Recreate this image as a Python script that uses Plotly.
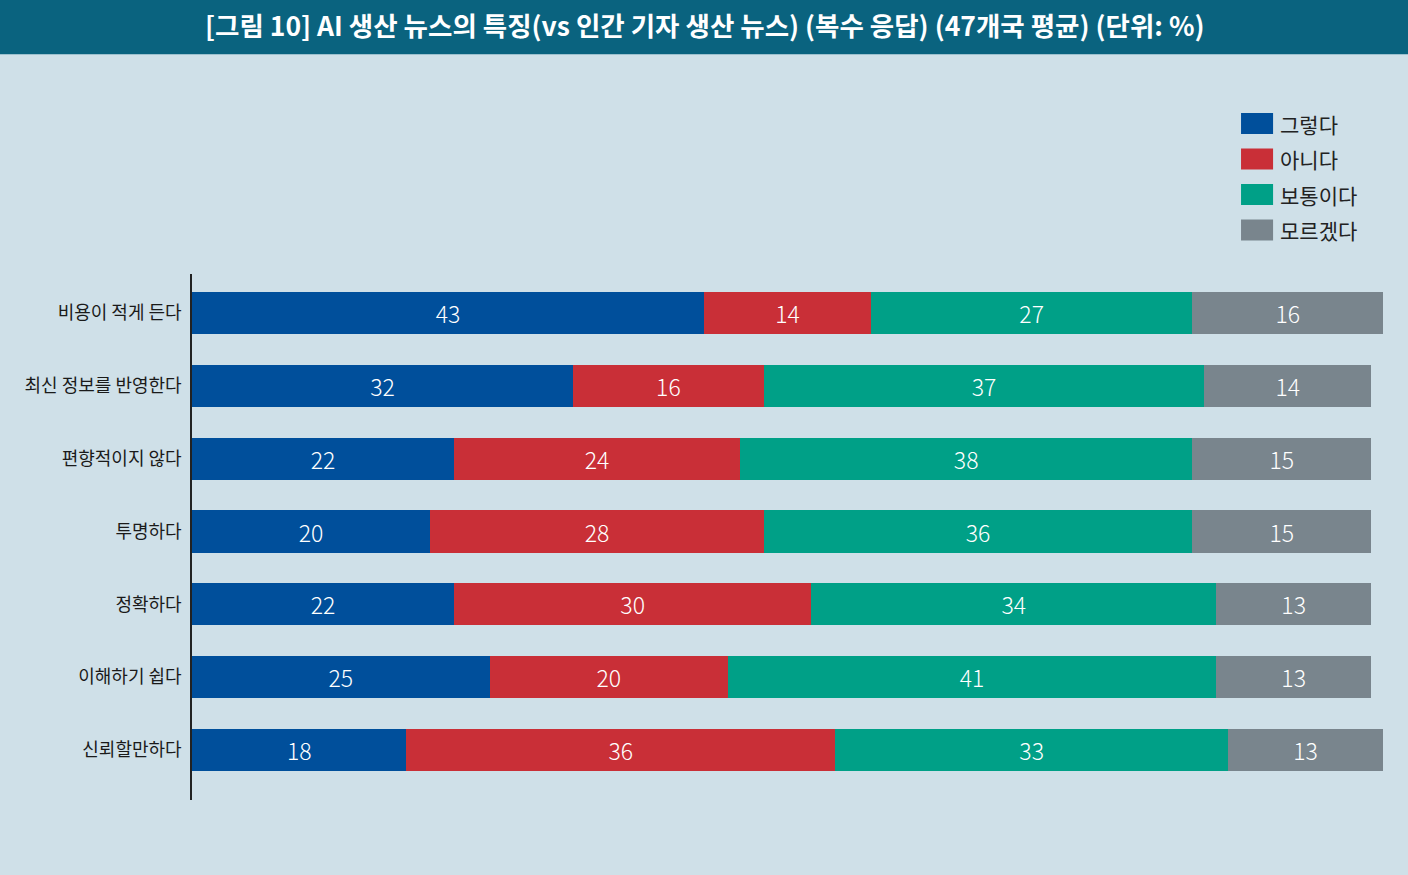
import plotly.graph_objects as go

categories = ["비용이 적게 든다", "최신 정보를 반영한다", "편향적이지 않다", "투명하다",
              "정확하다", "이해하기 쉽다", "신뢰할만하다"]
series_names = ["그렇다", "아니다", "보통이다", "모르겠다"]
yes_vals = [43, 32, 22, 20, 22, 25, 18]
no_vals = [14, 16, 24, 28, 30, 20, 36]
neutral_vals = [27, 37, 38, 36, 34, 41, 33]
dunno_vals = [16, 14, 15, 15, 13, 13, 13]
colors = ["#004f9b", "#c92f37", "#00a087", "#79858d"]

title = "[그림 10] AI 생산 뉴스의 특징(vs 인간 기자 생산 뉴스) (복수 응답) (47개국 평균) (단위: %)"
font = "Noto Sans CJK KR"
bg = "#cfe0e8"

fig = go.Figure()
for name, vals, col in zip(series_names, [yes_vals, no_vals, neutral_vals, dunno_vals], colors):
    fig.add_trace(go.Bar(
        y=categories, x=vals, name=name, orientation="h",
        marker=dict(color=col, line=dict(width=0)),
        text=vals, textposition="inside", insidetextanchor="middle",
        textangle=0, constraintext="none",
        textfont=dict(color="white", size=23, family=font, weight=300),
        showlegend=False,
    ))

# custom legend (square swatches + text)
for i, (name, col) in enumerate(zip(series_names, colors)):
    yt = 1.306 - i * 0.0675
    fig.add_shape(type="rect", xref="paper", yref="paper",
                  x0=0.8808, x1=0.9077, y0=yt - 0.040, y1=yt,
                  fillcolor=col, line=dict(width=0))
    fig.add_annotation(text=name, xref="paper", yref="paper",
                       x=0.9119, y=yt - 0.020, xanchor="left", yanchor="middle",
                       showarrow=False, font=dict(size=21, color="#222222", family=font))

# title bar
fig.add_shape(type="rect", xref="paper", yref="paper",
              x0=-0.2, x1=1.1, y0=1.418, y1=1.6,
              fillcolor="#0a637f", line=dict(width=0), layer="below")
fig.add_annotation(text="<b>" + title + "</b>", xref="paper", yref="paper",
                   x=(704 - 192) / 1191, y=(800 - 24) / 526,
                   xanchor="center", yanchor="middle", showarrow=False,
                   font=dict(size=26.5, color="white", family=font))

fig.update_layout(
    barmode="stack",
    bargap=0.42,
    width=1408, height=875,
    margin=dict(l=192, r=25, t=274, b=75),
    paper_bgcolor=bg, plot_bgcolor=bg,
    font=dict(family=font),
    xaxis=dict(range=[0, 100], showgrid=False, zeroline=False,
               showticklabels=False, showline=False),
    yaxis=dict(type="category", categoryorder="array", categoryarray=categories,
               range=[6.687, -0.536], showgrid=False, zeroline=False,
               showline=True, linecolor="#222222", linewidth=1.5,
               ticks="", ticklabelstandoff=5,
               tickfont=dict(size=18, color="#1a1a1a", family=font)),
)

fig.write_html("out.html", config={"displayModeBar": False},
               post_script="document.body.style.margin='0';")
